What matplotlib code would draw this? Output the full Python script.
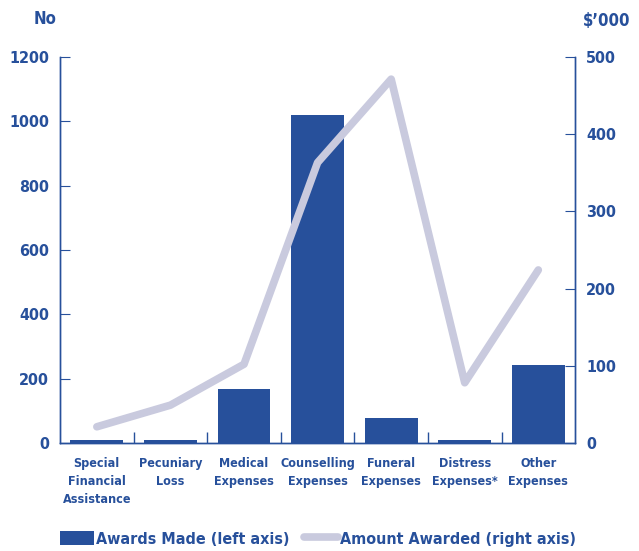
import matplotlib.pyplot as plt
import numpy as np
from matplotlib.lines import Line2D
from matplotlib.patches import Patch

categories = ['Special\nFinancial\nAssistance', 'Pecuniary\nLoss', 'Medical\nExpenses',
              'Counselling\nExpenses', 'Funeral\nExpenses', 'Distress\nExpenses*',
              'Other\nExpenses']
awards_made = [9, 9, 168, 1018, 78, 8, 242]
amount_awarded = [21, 49, 102, 363, 471, 78, 224]

blue = '#27509b'
lilac = '#c9cade'

plt.rcParams['font.family'] = ['DejaVu Sans']
plt.rcParams['font.stretch'] = 'condensed'
plt.rcParams['font.weight'] = 'bold'

fig = plt.figure(figsize=(6.39, 5.51), dpi=100)
ax = fig.add_axes([0.094, 0.196, 0.806, 0.701])
ax2 = ax.twinx()

x = np.arange(len(categories))
ax.bar(x, awards_made, width=0.72, color=blue, zorder=2)
ax2.plot(x, amount_awarded, color=lilac, lw=5.5, solid_capstyle='round',
         solid_joinstyle='round', zorder=3)

ax.set_xlim(-0.5, 6.5)
ax.set_ylim(0, 1200)
ax2.set_ylim(0, 500)
ax.set_yticks(range(0, 1201, 200))
ax2.set_yticks(range(0, 501, 100))

ax.set_xticks(x)
ax.set_xticklabels(categories, fontsize=9, color=blue, linespacing=1.5)
ax.set_xticks(x[:-1] + 0.5, minor=True)
ax.tick_params(axis='x', which='major', length=0, pad=10)
ax.tick_params(axis='x', which='minor', direction='in', length=8, color=blue, width=1)

for a in (ax, ax2):
    a.spines['top'].set_visible(False)
    for s in ('left', 'right', 'bottom'):
        a.spines[s].set_color(blue)
        a.spines[s].set_linewidth(1)
ax.tick_params(axis='y', direction='in', length=7, color=blue, labelcolor=blue,
               labelsize=11.5, pad=8)
ax2.tick_params(axis='y', direction='in', length=7, color=blue, labelcolor=blue,
                labelsize=11.5, pad=8)

fig.text(0.07, 0.965, 'No', color=blue, fontsize=12, ha='center', va='center')
fig.text(0.95, 0.962, '$\u2019000', color=blue, fontsize=12, ha='center', va='center')

handles = [Patch(facecolor=blue, edgecolor='none'),
           Line2D([0], [0], color=lilac, lw=5.5, solid_capstyle='round')]
fig.legend(handles, ['Awards Made (left axis)', 'Amount Awarded (right axis)'],
           loc='lower center', bbox_to_anchor=(0.498, -0.018), ncol=2, frameon=False,
           fontsize=11.5, labelcolor=blue, handlelength=2.1, handleheight=1.0,
           handletextpad=0.15, columnspacing=0.9)

fig.savefig('out.png', dpi=100)
